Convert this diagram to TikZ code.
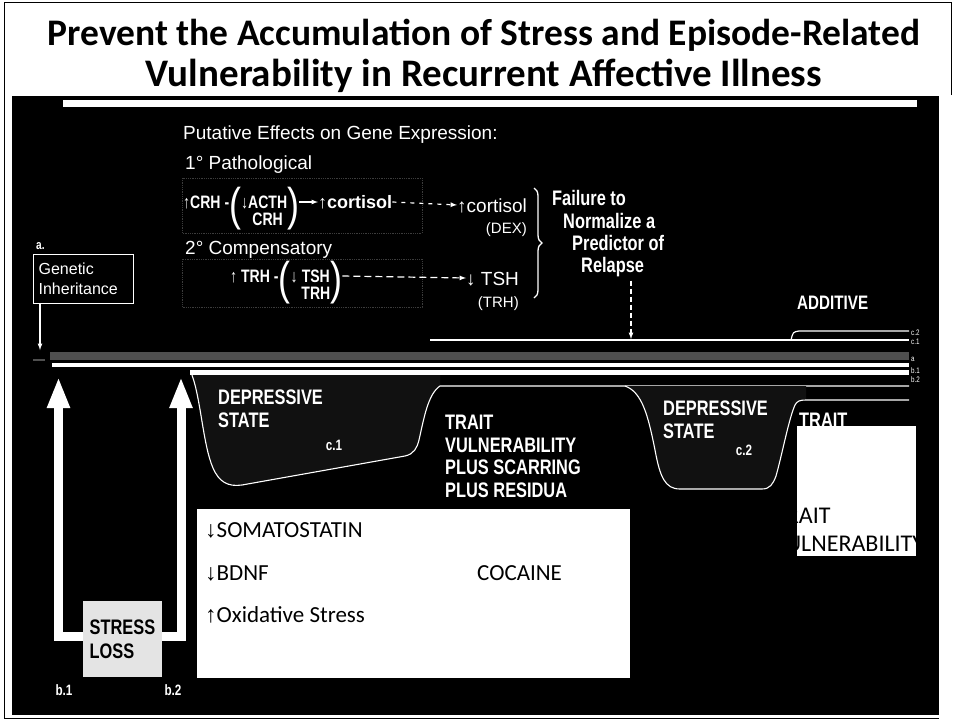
\documentclass[tikz,border=0pt]{standalone}
\usepackage{fontspec}
\setmainfont{Liberation Sans}
\newfontfamily\calfont{Carlito}
\newfontfamily\condfont[FakeStretch=0.78]{Liberation Sans}
\usetikzlibrary{arrows,arrows.meta,positioning,decorations.pathreplacing}

\definecolor{bandgray}{HTML}{4F4F4F}
\definecolor{stressgray}{HTML}{E4E4E4}
\definecolor{dipgray}{HTML}{111111}
\definecolor{boxline}{HTML}{3C3C3C}

\newcommand{\dnarrow}{{\normalfont ↓}}
\newcommand{\uparr}{{\normalfont ↑}}
\newcommand{\bigparen}[1]{\raisebox{-12pt}{\fontsize{46}{46}\selectfont\mdseries #1}}

\tikzset{
  titletext/.style={inner sep=0pt, font=\calfont\bfseries\fontsize{37.5}{44}\selectfont},
  lbl/.style={text=white, inner sep=0pt, align=left, font=\condfont\bfseries\fontsize{21}{22.5}\selectfont},
  gene/.style={text=white, inner sep=0pt, font=\condfont\bfseries\fontsize{18}{20}\selectfont},
  txt/.style={text=white, inner sep=0pt, font=\fontsize{19}{22}\selectfont},
  smalltxt/.style={text=white, inner sep=0pt, font=\fontsize{15}{17}\selectfont},
  tagtxt/.style={text=white, inner sep=0pt, font=\condfont\bfseries\fontsize{15}{17}\selectfont},
  trk/.style={text=white, inner sep=0pt, anchor=west, font=\condfont\fontsize{8}{8}\selectfont},
  note/.style={text=black, inner sep=0pt, anchor=base west, font=\calfont\fontsize{23}{26}\selectfont},
  genebox/.style={draw=boxline, densely dotted, line width=0.8pt},
  geneline/.style={white, line width=1.2pt, ->, >=latex},
  dipline/.style={white, line width=1.1pt},
  bigarrow/.style={white, line width=9pt, -{Triangle[length=31pt,width=21pt]}},
  genetic/.style={draw=white, line width=1.3pt, text=white, align=left, text width=90pt,
    inner xsep=5pt, inner ysep=0pt, minimum height=49pt, font=\fontsize{16}{20}\selectfont},
  stressbox/.style={fill=stressgray, text=black, align=left, minimum width=79pt,
    minimum height=76pt, inner sep=0pt, font=\condfont\bfseries\fontsize{21}{24}\selectfont},
}

\begin{document}
\begin{tikzpicture}[x=1pt, y=-1pt]
\useasboundingbox (0,0) rectangle (954,721);
\fill[white] (0,0) rectangle (954,721);
\draw[black, line width=1pt] (951,95) -- (951,2) -- (4,2) -- (4,718) -- (939,718);

% title
\node[titletext, anchor=base] (title1) at (484,45) {Prevent the Accumulation of Stress and Episode-Related};
\node[titletext, anchor=base, font=\calfont\bfseries\fontsize{39}{44}\selectfont] (title2) at (484,86)
  {Vulnerability in Recurrent Affective Illness};

% black panel
\fill[black] (12,96) rectangle (939,715);
\fill[white] (63,100) rectangle (917,107);

% gene expression
\node[txt, anchor=base west] (putative) at (183,139) {Putative Effects on Gene Expression:};
\node[txt, anchor=base west] (patho) at (185,169) {1° Pathological};
\draw[genebox] (182,178) rectangle (422,233);
\node[gene, anchor=base west] (crh) at (183,208)
  {↑CRH -\bigparen{(}↓\begin{tabular}[t]{@{}c@{}}ACTH\\[-3pt]CRH\end{tabular}\bigparen{)}};
\node[gene, anchor=base west, font=\bfseries\fontsize{18}{20}\selectfont] (cortA) at (318,208) {↑cortisol};
\node[txt, anchor=base west] (cortB) at (457,212) {↑cortisol};
\node[smalltxt, anchor=base east] (dex) at (527,233) {(DEX)};
\draw[geneline] ([yshift=6pt]crh.base east) -- ([yshift=6pt]cortA.base west);
\draw[geneline, dash pattern=on 4pt off 5pt] ([yshift=6pt]cortA.base east) -- ([yshift=7pt]cortB.base west);

\node[txt, anchor=base west] (compens) at (185,254) {2° Compensatory};
\draw[genebox] (182,259) rectangle (422,307);
\node[gene, anchor=base west] (trh) at (230,282)
  {↑ TRH -\bigparen{(}↓ \begin{tabular}[t]{@{}c@{}}TSH\\[-3pt]TRH\end{tabular}\bigparen{)}};
\node[txt, anchor=base west] (tshB) at (466,285) {↓ TSH};
\node[smalltxt, anchor=base east] (trhnote) at (519,307) {(TRH)};
\draw[geneline, dash pattern=on 7pt off 4pt] ([yshift=6pt]trh.base east) -- ([yshift=7pt]tshB.base west);

\draw[white, line width=1.3pt, decorate, decoration={brace, amplitude=8pt}] (534,188) -- (534,298);
\node[lbl, anchor=base west] (fail) at (552,205) {Failure to};
\node[lbl, anchor=base west] (norm) at (563,228) {Normalize a};
\node[lbl, anchor=base west] (pred) at (572,250) {Predictor of};
\node[lbl, anchor=base west] (relapse) at (581,272) {Relapse};
\coordinate (c1hit) at (631,339);
\draw[geneline, dash pattern=on 5pt off 3pt] (relapse.south -| c1hit) ++(0,4) -- (c1hit);

\node[lbl, anchor=base west, font=\condfont\bfseries\fontsize{19.5}{21}\selectfont] (additive) at (797,309) {ADDITIVE};

% genetic inheritance
\node[tagtxt, anchor=base west, font=\condfont\bfseries\fontsize{13}{15}\selectfont] (alabel) at (36,249) {a.};
\node[genetic, anchor=north west] (genetic) at (33,254) {Genetic\\Inheritance};
\coordinate (gtip) at (40,350);
\draw[geneline] (genetic.south -| gtip) -- (gtip);
\draw[bandgray, line width=2pt] (33,360) -- (45,360);

% tracks
\draw[white, line width=1.2pt] (430,340) -- (909,340);
\draw[white, line width=1.2pt] (791,340) .. controls (793,332) .. (799,331) -- (909,331);
\fill[bandgray] (50,352) rectangle (909,360);
\fill[white] (52,363) rectangle (909,367);
\fill[white] (190,370) rectangle (909,375);

\node[trk] (lc2) at (911,333) {c.2};
\node[trk] (lc1) at (911,342) {c.1};
\node[trk] (la) at (911,359) {a};
\node[trk] (lb1) at (911,371) {b.1};
\node[trk] (lb2) at (911,380) {b.2};

% depressive states
\fill[dipgray] (192,375) .. controls (201,400) and (203,445) .. (213,468)
  .. controls (219,482) and (228,487) .. (242,485) -- (405,456)
  .. controls (414,454) and (417,448) .. (419,440)
  .. controls (424,418) and (428,394) .. (440,386) -- (440,375) -- cycle;
\draw[dipline] (192,375) .. controls (201,400) and (203,445) .. (213,468)
  .. controls (219,482) and (228,487) .. (242,485) -- (405,456)
  .. controls (414,454) and (417,448) .. (419,440)
  .. controls (424,418) and (428,394) .. (440,386) -- (909,386);
\fill[dipgray] (625,386) .. controls (642,392) and (648,415) .. (655,450)
  .. controls (660,477) and (665,489) .. (680,489) -- (762,489)
  .. controls (770,489) and (773,484) .. (776,476)
  .. controls (782,455) and (789,418) .. (795,405)
  .. controls (797,401) and (800,400) .. (806,400) -- (806,386) -- cycle;
\draw[dipline] (625,386) .. controls (642,392) and (648,415) .. (655,450)
  .. controls (660,477) and (665,489) .. (680,489) -- (762,489)
  .. controls (770,489) and (773,484) .. (776,476)
  .. controls (782,455) and (789,418) .. (795,405)
  .. controls (797,401) and (800,400) .. (806,400) -- (909,400);

\node[lbl, anchor=north west] (dep1) at (218,390) {DEPRESSIVE\\STATE};
\node[tagtxt] (c1) at (334,445) {c.1};
\node[lbl, anchor=north west] (trait1) at (445,415) {TRAIT\\VULNERABILITY\\PLUS SCARRING\\PLUS RESIDUA};
\node[lbl, anchor=north west] (dep2) at (663,401) {DEPRESSIVE\\STATE};
\node[tagtxt] (c2) at (744,450) {c.2};
\node[lbl, anchor=north west] (trait2) at (799,413) {TRAIT};

% stress / loss
\node[stressbox] (stress) at (122.5,639) {STRESS\\LOSS};
\coordinate (b1tip) at (58.5,377);
\coordinate (b2tip) at (181,377);
\draw[bigarrow] ([yshift=3pt]stress.west) -| (b1tip);
\draw[bigarrow] ([yshift=3pt]stress.east) -| (b2tip);
\node[tagtxt] (b1) at (64,690) {b.1};
\node[tagtxt] (b2) at (173,690) {b.2};

% white overlays
\fill[white] (197,509) rectangle (630,678);
\node[note] (somato) at (205,537) {\dnarrow SOMATOSTATIN};
\node[note] (bdnf) at (205,580) {\dnarrow BDNF};
\node[note] (oxid) at (205,622) {\uparr Oxidative Stress};
\node[note] (cocaine) at (477,580) {COCAINE};

\fill[white] (797,426) rectangle (916,556);
\begin{scope}
  \clip (797,426) rectangle (916,556);
  \node[note, font=\calfont\fontsize{24}{26}\selectfont] (trait3) at (774,523) {TRAIT};
  \node[note, font=\calfont\fontsize{24}{26}\selectfont] (vuln3) at (772,551) {VULNERABILITY};
\end{scope}
\end{tikzpicture}
\end{document}
